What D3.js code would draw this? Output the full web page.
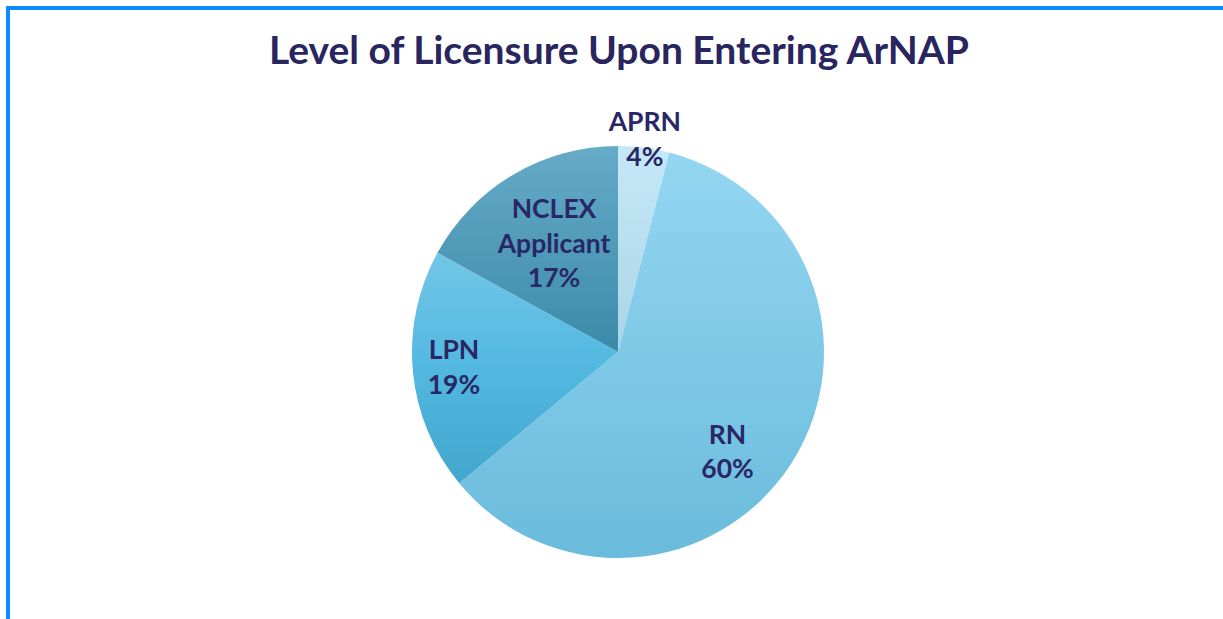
<!DOCTYPE html>
<html>
<head>
<meta charset="utf-8">
<script src="https://cdn.jsdelivr.net/npm/d3@7"></script>
<style>
  body { margin: 0; background: #fff; }
  svg { display: block; }
</style>
</head>
<body>
<div id="chart"></div>
<script>
// chart data
const categories = ["APRN", "RN", "LPN", "NCLEX Applicant"];
const shares = [4, 60, 19, 17];
const labelLines = [["APRN", "4%"], ["RN", "60%"], ["LPN", "19%"], ["NCLEX", "Applicant", "17%"]];

// gradient stops (top -> bottom) per slice
const sliceColors = {
    "APRN": ["#c6e8f8", "#a9d5e6"],
    "RN": ["#93d6f2", "#6abbdc"],
    "LPN": ["#72c6e6", "#52b8e0", "#43a7cd"],
    "NCLEX Applicant": ["#66abc7", "#3a8aaa"]
};
// label placement as fraction of radius, plus angle nudge (deg)
const labelPos = {
    "APRN": { r: 1.04, da: 0 },
    "RN": { r: 0.72, da: 10 },
    "LPN": { r: 0.80, da: 0 },
    "NCLEX Applicant": { r: 0.61, da: 0 }
};

const width = 1223, height = 619;
const cx = 618, cy = 352, radius = 206;
const textColor = "#2a2766";

let svg = d3.select("#chart").append("svg").attr("width", width).attr("height", height);

// blue frame (only top and left visible)
svg.append("rect")
    .attr("x", 8).attr("y", 8)
    .attr("width", width).attr("height", height)
    .attr("fill", "none")
    .attr("stroke", "#0a8cff")
    .attr("stroke-width", 4);

svg.append("text")
    .attr("x", 619)
    .attr("y", 64)
    .attr("text-anchor", "middle")
    .style("font-family", "Lato, 'Open Sans', sans-serif")
    .style("font-weight", "bold")
    .style("font-size", "39px")
    .style("fill", "#28255f")
    .text("Level of Licensure Upon Entering ArNAP");

let defs = svg.append("defs");
categories.forEach((c, i) => {
    let g = defs.append("linearGradient")
        .attr("id", "grad" + i)
        .attr("x1", 0).attr("y1", 0).attr("x2", 0).attr("y2", 1);
    let stops = sliceColors[c];
    stops.forEach((col, j) => {
        g.append("stop")
            .attr("offset", (j / (stops.length - 1) * 100) + "%")
            .attr("stop-color", col);
    });
});

const pieData = categories.map((c, i) => ({ name: c, value: shares[i], idx: i, lines: labelLines[i] }));
const pie = d3.pie().value(d => d.value).sort(null);
const arc = d3.arc().innerRadius(0).outerRadius(radius);

let g = svg.append("g").attr("transform", "translate(" + cx + "," + cy + ")");

let arcs = pie(pieData);

g.selectAll("path")
    .data(arcs)
    .enter().append("path")
    .attr("d", arc)
    .attr("fill", d => "url(#grad" + d.data.idx + ")")
    .attr("stroke", "none");

const fontSize = 26.5, lineH = 34.5;
arcs.forEach(d => {
    let p = labelPos[d.data.name];
    let a = (d.startAngle + d.endAngle) / 2 + p.da * Math.PI / 180;
    let x = Math.sin(a) * radius * p.r;
    let y = -Math.cos(a) * radius * p.r;
    let n = d.data.lines.length;
    let t = g.append("text")
        .attr("text-anchor", "middle")
        .style("font-family", "Lato, 'Open Sans', sans-serif")
        .style("font-weight", "bold")
        .style("font-size", fontSize + "px")
        .style("fill", textColor);
    d.data.lines.forEach((line, k) => {
        t.append("tspan")
            .attr("x", x)
            .attr("y", y + (k - (n - 1) / 2) * lineH + 9)
            .text(line);
    });
});
</script>
</body>
</html>
